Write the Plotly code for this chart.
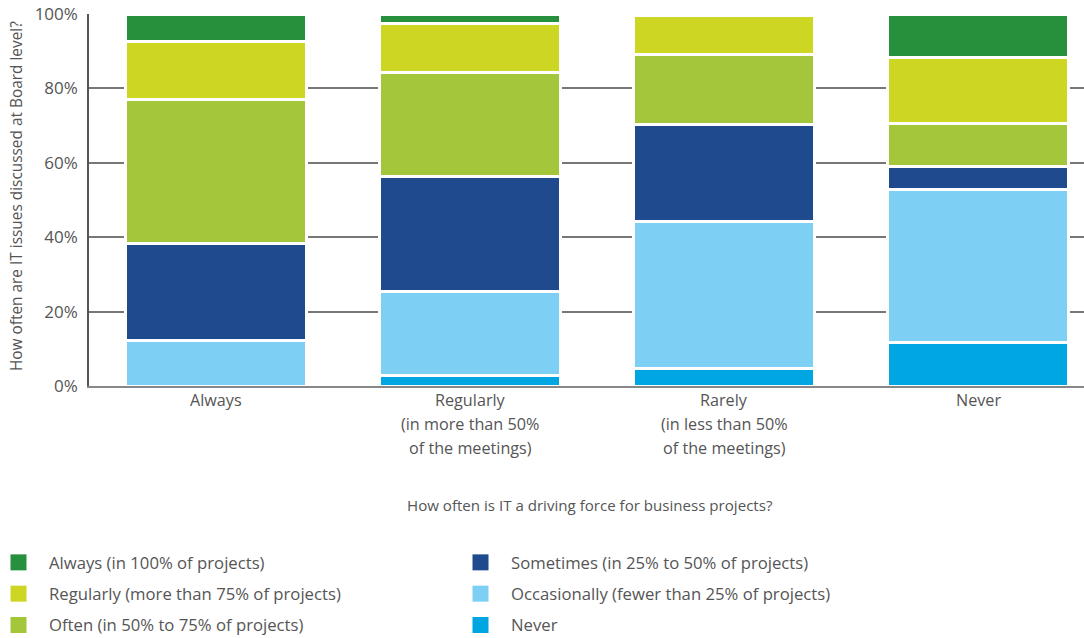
import plotly.graph_objects as go

# Board-discussion frequency (x categories), one list of label lines each
category_lines = [
    ["Always"],
    ["Regularly", "(in more than 50%", "of the meetings)"],
    ["Rarely", "(in less than 50%", "of the meetings)"],
    ["Never"],
]
categories = [" ".join(lines) for lines in category_lines]

# Share of respondents (%) per answer on "IT as driving force"
always_pct = [7.5, 2.5, 0.0, 11.6]
regularly_pct = [15.4, 13.2, 10.4, 17.7]
often_pct = [38.7, 28.0, 18.9, 11.8]
sometimes_pct = [26.2, 30.9, 25.9, 6.0]
occasionally_pct = [12.2, 22.7, 39.7, 41.3]
never_pct = [0.0, 2.7, 4.6, 11.6]

y_ticks = [0, 20, 40, 60, 80, 100]

# stacking order bottom -> top
series = [
    ("Never", never_pct, "#00A6E1"),
    ("Occasionally (fewer than 25% of projects)", occasionally_pct, "#7DCFF3"),
    ("Sometimes (in 25% to 50% of projects)", sometimes_pct, "#1F4A8E"),
    ("Often (in 50% to 75% of projects)", often_pct, "#A4C63B"),
    ("Regularly (more than 75% of projects)", regularly_pct, "#CDD622"),
    ("Always (in 100% of projects)", always_pct, "#27903C"),
]

# legend arrangement: left column / right column
legend_left = [
    "Always (in 100% of projects)",
    "Regularly (more than 75% of projects)",
    "Often (in 50% to 75% of projects)",
]
legend_right = [
    "Sometimes (in 25% to 50% of projects)",
    "Occasionally (fewer than 25% of projects)",
    "Never",
]

FONT = "Open Sans, Lato, sans-serif"
TXT = "#555555"

fig = go.Figure()
for name, vals, color in series:
    fig.add_trace(go.Bar(
        x=categories, y=vals, name=name, width=0.71,
        marker=dict(color=color, line=dict(color="white", width=3)),
        showlegend=False,
    ))

colors = {n: c for n, _, c in series}
for col, names in (("legend", legend_left), ("legend2", legend_right)):
    for n in names:
        fig.add_trace(go.Scatter(
            x=[None], y=[None], mode="markers", name=n,
            marker=dict(symbol="square", size=16, color=colors[n]),
            legend=col, legendgroup=n, showlegend=True,
        ))

W, H = 1084, 638
L, T, B = 89, 14, 252
plot_w = W - L
plot_h = H - T - B

def px_x(px):
    return (px - L) / plot_w

def px_y(py):
    return (H - B - py) / plot_h

annotations = []
for cat, lines in zip(categories, category_lines):
    for j, line in enumerate(lines):
        annotations.append(dict(
            x=cat, xref="x", y=0, yref="paper", yshift=-14 - 24 * j,
            text=line, showarrow=False, yanchor="middle",
            font=dict(family=FONT, size=16.2, color=TXT),
        ))
annotations.append(dict(
    x=px_x(16), xref="paper", y=px_y(196), yref="paper",
    text="How often are IT issues discussed at Board level?",
    textangle=-90, showarrow=False, xanchor="center", yanchor="middle",
    font=dict(family=FONT, size=15.4, color=TXT),
))
annotations.append(dict(
    x=px_x(590), xref="paper", y=px_y(505), yref="paper",
    text="How often is IT a driving force for business projects?",
    showarrow=False, xanchor="center", yanchor="middle",
    font=dict(family=FONT, size=15.1, color=TXT),
))

legend_style = dict(
    orientation="v", traceorder="grouped", tracegroupgap=6.6,
    bgcolor="rgba(0,0,0,0)", borderwidth=0, itemwidth=51,
    font=dict(family=FONT, size=16.7, color=TXT),
    xanchor="left", yanchor="top", itemclick=False,
)

fig.update_layout(
    width=W, height=H,
    margin=dict(l=L, r=0, t=T, b=B, autoexpand=False),
    paper_bgcolor="white", plot_bgcolor="white",
    barmode="stack", bargap=0.29,
    font=dict(family=FONT, size=15, color=TXT),
    showlegend=True,
    legend=dict(x=px_x(-12), y=px_y(545), **legend_style),
    legend2=dict(x=px_x(450), y=px_y(545), **legend_style),
    annotations=annotations,
    xaxis=dict(
        type="category", categoryorder="array", categoryarray=categories,
        range=[-0.5, 3.417], showticklabels=False, ticks="",
        showline=True, linecolor="#888888", linewidth=1.5,
        showgrid=False, zeroline=False, fixedrange=True,
    ),
    yaxis=dict(
        range=[0, 100], tickvals=y_ticks,
        ticktext=[f"{v}%" for v in y_ticks],
        ticks="", ticklabelstandoff=6,
        tickfont=dict(family=FONT, size=17, color=TXT),
        showline=True, linecolor="#555555", linewidth=1.5,
        showgrid=True, gridcolor="#777777", gridwidth=1.5,
        zeroline=False, fixedrange=True,
    ),
)

fig.write_html("out.html")
